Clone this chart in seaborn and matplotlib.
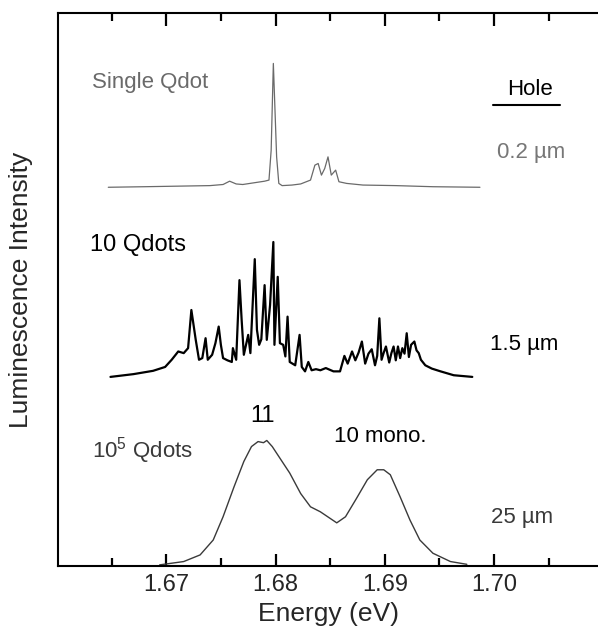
import numpy as np
import pandas as pd
import matplotlib
matplotlib.use('Agg')
import matplotlib.pyplot as plt
from matplotlib.ticker import MultipleLocator
import seaborn as sns

# ---- данные (энергия в эВ, интенсивность в усл. ед.) ----
energy_single = [1.6647, 1.6680, 1.6710, 1.6740, 1.6752, 1.6758, 1.6764, 1.6770,
                 1.6780, 1.6790, 1.6794, 1.6796, 1.6798, 1.6801, 1.6803, 1.6806,
                 1.6815, 1.6823, 1.6832, 1.6836, 1.6839, 1.6842, 1.6845, 1.6848,
                 1.6851, 1.6855, 1.6858, 1.6865, 1.6880, 1.6910, 1.6944, 1.6987]
intensity_single = [68.5, 68.6, 68.7, 68.8, 69.0, 69.6, 69.1, 69.0,
                    69.3, 69.6, 69.8, 75.2, 90.9, 74.0, 69.2, 68.8,
                    68.9, 69.1, 69.8, 72.5, 72.8, 70.7, 71.9, 74.0,
                    70.7, 71.6, 69.5, 69.2, 68.9, 68.8, 68.6, 68.5]

energy_ten = [1.6649, 1.6670, 1.6688, 1.6699, 1.6705, 1.6711, 1.6716, 1.6720,
              1.6723, 1.6727, 1.6730, 1.6733, 1.6736, 1.6738, 1.6742, 1.6745,
              1.6748, 1.6750, 1.6752, 1.6756, 1.6760, 1.6761, 1.6764, 1.6767,
              1.6769, 1.6771, 1.6775, 1.6777, 1.6781, 1.6783, 1.6785, 1.6787,
              1.6790, 1.6792, 1.6795, 1.6798, 1.6799, 1.6802, 1.6804, 1.6807,
              1.6809, 1.6811, 1.6813, 1.6818, 1.6822, 1.6824, 1.6827, 1.6830,
              1.6833, 1.6837, 1.6841, 1.6846, 1.6853, 1.6859, 1.6863, 1.6866,
              1.6870, 1.6873, 1.6876, 1.6879, 1.6882, 1.6885, 1.6888, 1.6891,
              1.6893, 1.6895, 1.6897, 1.6899, 1.6901, 1.6904, 1.6906, 1.6908,
              1.6910, 1.6912, 1.6914, 1.6916, 1.6918, 1.6920, 1.6922, 1.6924,
              1.6927, 1.6929, 1.6931, 1.6933, 1.6937, 1.6943, 1.6951, 1.6963,
              1.6980]
intensity_ten = [34.2, 34.7, 35.3, 36.0, 37.3, 38.8, 38.5, 39.4,
                 46.3, 40.9, 37.3, 37.6, 41.2, 37.3, 38.2, 40.3,
                 43.3, 40.0, 37.6, 37.2, 36.9, 39.4, 37.3, 51.7,
                 44.5, 38.2, 41.8, 38.5, 55.5, 42.7, 40.0, 41.0,
                 50.8, 40.9, 47.2, 58.6, 40.0, 52.3, 40.3, 40.0,
                 37.9, 45.1, 36.9, 36.3, 41.8, 36.0, 35.2, 36.9,
                 35.4, 35.6, 35.4, 35.8, 35.2, 35.2, 38.0, 36.6,
                 38.8, 37.2, 38.6, 40.6, 36.6, 38.4, 39.2, 36.3,
                 38.0, 44.8, 37.3, 38.6, 39.7, 36.8, 38.5, 39.7,
                 37.2, 39.7, 37.6, 39.4, 38.4, 42.1, 37.8, 40.0,
                 40.6, 39.0, 38.5, 37.3, 36.3, 35.7, 35.2, 34.5,
                 34.2]

energy_bulk = [1.6694, 1.6716, 1.6731, 1.6743, 1.6752, 1.6762, 1.6771, 1.6778,
               1.6784, 1.6789, 1.6792, 1.6797, 1.6804, 1.6813, 1.6823, 1.6832,
               1.6841, 1.6850, 1.6856, 1.6864, 1.6874, 1.6884, 1.6893, 1.6899,
               1.6905, 1.6914, 1.6923, 1.6932, 1.6944, 1.6960, 1.6975]
intensity_bulk = [0.2, 0.8, 2.0, 4.7, 8.9, 14.3, 18.9, 21.6,
                  22.5, 22.3, 22.7, 21.6, 19.5, 16.8, 13.1, 10.7,
                  9.8, 8.6, 7.8, 8.9, 12.2, 15.6, 17.4, 17.4,
                  16.5, 12.5, 8.3, 4.7, 2.3, 0.8, 0.3]

tick_values = [1.67, 1.68, 1.69, 1.70]
tick_labels = ['1.67', '1.68', '1.69', '1.70']

# ---- стиль ----
sns.set_theme(style='ticks')
plt.rcParams['font.family'] = ['Liberation Sans', 'DejaVu Sans']
plt.rcParams['mathtext.fontset'] = 'custom'
plt.rcParams['mathtext.rm'] = 'Liberation Sans'

fig = plt.figure(figsize=(5.98, 6.34), dpi=100)
ax = fig.add_axes([0.097, 0.1073, 0.903, 0.872])

spectra = [
    (energy_single, intensity_single, '#6a6a6a', 0.9),
    (energy_ten, intensity_ten, 'black', 1.6),
    (energy_bulk, intensity_bulk, '#3a3a3a', 1.0),
]
for e, i, col, lw in spectra:
    df = pd.DataFrame({'energy': e, 'intensity': i})
    sns.lineplot(data=df, x='energy', y='intensity', ax=ax, color=col,
                 linewidth=lw, sort=False, estimator=None)

ax.set_xlim(1.6601, 1.7095)
ax.set_ylim(0, 100)

# засечки внутрь сверху и снизу
ax.set_xticks(tick_values)
ax.set_xticklabels(tick_labels)
ax.xaxis.set_minor_locator(MultipleLocator(0.005))
ax.tick_params(axis='x', which='major', direction='in', length=9, width=1.6,
               top=True, bottom=True, labeltop=False, labelsize=17, pad=6,
               color='black')
ax.tick_params(axis='x', which='minor', direction='in', length=6, width=1.6,
               top=True, bottom=True, color='black')
ax.set_yticks([])
for side in ['left', 'top', 'bottom']:
    ax.spines[side].set_linewidth(1.5)
    ax.spines[side].set_color('black')
ax.spines['right'].set_visible(False)

ax.set_xlabel('Energy (eV)', fontsize=19, labelpad=4)
ax.set_ylabel('Luminescence Intensity', fontsize=19)
ax.yaxis.set_label_coords(-0.047, 0.5)

# подписи спектров
ax.text(1.66323, 87.5, 'Single Qdot', fontsize=16, color='#6a6a6a', ha='left', va='center')
ax.text(1.66305, 58.0, '10 Qdots', fontsize=17, color='black', ha='left', va='center')
ax.text(1.66323, 20.8, r'10$^5$ Qdots', fontsize=16, color='#3a3a3a', ha='left', va='center')
ax.text(1.67878, 27.1, '11', fontsize=17, color='black', ha='center', va='center')
ax.text(1.68957, 23.5, '10 mono.', fontsize=16, color='black', ha='center', va='center')

ax.text(1.70329, 86.1, 'Hole', fontsize=16, color='black', ha='center', va='center')
ax.plot([0.806, 0.930], [0.834, 0.834], color='black', lw=1.5, transform=ax.transAxes)
ax.text(1.70339, 74.7, '0.2 µm', fontsize=16, color='#777777', ha='center', va='center')
ax.text(1.70274, 40.1, '1.5 µm', fontsize=16, color='black', ha='center', va='center')
ax.text(1.70256, 8.7, '25 µm', fontsize=16, color='#3a3a3a', ha='center', va='center')

fig.savefig('out.png', dpi=100)
plt.close()
